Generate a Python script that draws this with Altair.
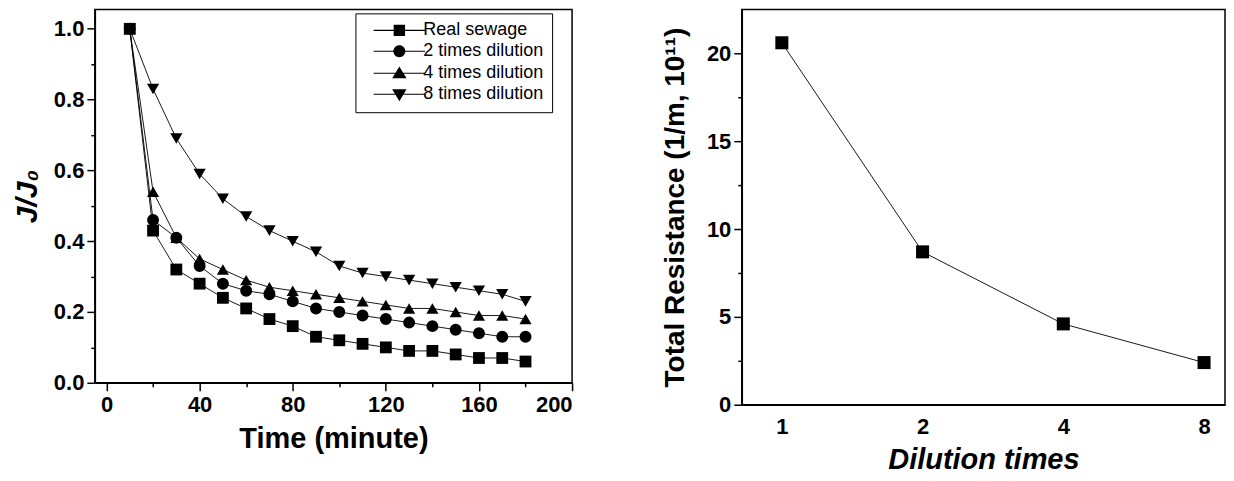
import altair as alt
import pandas as pd

# ---- data ----
time_min = [10, 20, 30, 40, 50, 60, 70, 80, 90, 100, 110, 120, 130, 140, 150, 160, 170, 180]
real_sewage = [1.0, 0.43, 0.32, 0.28, 0.24, 0.21, 0.18, 0.16, 0.13, 0.12, 0.11, 0.10, 0.09, 0.09, 0.08, 0.07, 0.07, 0.06]
dil_2 = [1.0, 0.46, 0.41, 0.33, 0.28, 0.26, 0.25, 0.23, 0.21, 0.20, 0.19, 0.18, 0.17, 0.16, 0.15, 0.14, 0.13, 0.13]
dil_4 = [1.0, 0.54, 0.41, 0.35, 0.32, 0.29, 0.27, 0.26, 0.25, 0.24, 0.23, 0.22, 0.21, 0.21, 0.20, 0.19, 0.19, 0.18]
dil_8 = [1.0, 0.83, 0.69, 0.59, 0.52, 0.47, 0.43, 0.40, 0.37, 0.33, 0.31, 0.30, 0.29, 0.28, 0.27, 0.26, 0.25, 0.23]
series_names = ["Real sewage", "2 times dilution", "4 times dilution", "8 times dilution"]

dilution_times = [1, 2, 4, 8]
total_resistance = [20.6, 8.7, 4.6, 2.4]

# axis tick positions (major + minor)
left_y_ticks = [0, 0.1, 0.2, 0.3, 0.4, 0.5, 0.6, 0.7, 0.8, 0.9, 1.0]
left_x_ticks = [0, 20, 40, 60, 80, 100, 120, 140, 160, 180, 200]
right_y_ticks = [0, 2.5, 5, 7.5, 10, 12.5, 15, 17.5, 20]

FONT = "Liberation Sans"

rows = []
for name, vals in zip(series_names, [real_sewage, dil_2, dil_4, dil_8]):
    for t, v in zip(time_min, vals):
        rows.append({"Time": t, "J": v, "Series": name})
df_left = pd.DataFrame(rows)
df_right = pd.DataFrame({"Dilution": dilution_times, "Resistance": total_resistance})

marker_shapes = ["square", "circle", "triangle-up", "triangle-down"]
marker_sizes = [140, 150, 190, 190]
# legend symbols: marker plus a thin horizontal bar (drawn as filled area)
bar = "M-4.3,-0.09H4.3V0.09H-4.3Z"
legend_shapes = [
    bar + "M-0.95,-0.95H0.95V0.95H-0.95Z",
    bar + "M-1,0A1,1 0 1,1 1,0A1,1 0 1,1 -1,0Z",
    bar + "M0,-1.15L1.2,0.85L-1.2,0.85Z",
    bar + "M0,1.15L-1.2,-0.85L1.2,-0.85Z",
]


def tick_size(test):
    return {"condition": {"test": test, "value": 8}, "value": 4}


x_scale_l = alt.Scale(domain=[-5, 200], nice=False, zero=False)
y_scale_l = alt.Scale(domain=[0, 1.055], nice=False)

x_left = alt.X("Time:Q", scale=x_scale_l,
               axis=alt.Axis(values=left_x_ticks, title="Time (minute)",
                             labelExpr="datum.value % 40 == 0 ? datum.label : ''",
                             tickSize=tick_size("datum.value % 40 == 0"),
                             titleFontSize=29, titlePadding=9, labelPadding=4))
y_left = alt.Y("J:Q", scale=y_scale_l,
               axis=alt.Axis(values=left_y_ticks, format=".1f", title="J/J₀",
                             labelExpr="round(datum.value * 10) % 2 == 0 ? datum.label : ''",
                             tickSize=tick_size("round(datum.value * 10) % 2 == 0"),
                             titleFontStyle="italic", titleFontSize=30, titlePadding=11, labelPadding=3))

lines = alt.Chart(df_left).mark_line(color="black", strokeWidth=0.9).encode(
    x=x_left, y=y_left, detail="Series:N", order="Time:Q")

points = alt.Chart(df_left).mark_point(filled=True, color="black", opacity=1).encode(
    x=x_left, y=y_left,
    shape=alt.Shape("Series:N", scale=alt.Scale(domain=series_names, range=marker_shapes), legend=None),
    size=alt.Size("Series:N", scale=alt.Scale(domain=series_names, range=marker_sizes), legend=None))

legend_layer = alt.Chart(df_left).mark_point(filled=True, color="black", opacity=0, size=144).encode(
    x=x_left, y=y_left,
    shape=alt.Shape("Series:N", scale=alt.Scale(domain=series_names, range=legend_shapes),
                    legend=alt.Legend(title=None, orient="none", legendX=261, legendY=4,
                                      padding=8, strokeColor="black", fillColor="white",
                                      labelFont=FONT, labelFontSize=18, labelFontWeight="normal",
                                      labelColor="black", symbolSize=144, symbolOffset=27,
                                      labelOffset=15, rowPadding=3,
                                      symbolFillColor="black", symbolOpacity=1)))

left = alt.layer(lines, points, legend_layer).resolve_scale(
    shape="independent", size="independent").properties(width=478, height=374)

x_right = alt.X("Dilution:Q",
                scale=alt.Scale(type="log", base=2, domain=[0.821, 8.87], nice=False, zero=False),
                axis=alt.Axis(values=dilution_times, format="d", title="Dilution times",
                              titleFontStyle="italic", titleFontSize=29, titlePadding=8,
                              ticks=False, labelPadding=12, grid=False))
y_right = alt.Y("Resistance:Q", scale=alt.Scale(domain=[0, 22.5], nice=False),
                axis=alt.Axis(values=right_y_ticks, title="Total Resistance (1/m, 10¹¹)",
                              labelExpr="datum.value % 5 == 0 ? datum.label : ''",
                              tickSize=tick_size("datum.value % 5 == 0"),
                              titleFontSize=28, titlePadding=17, labelPadding=3))

r_line = alt.Chart(df_right).mark_line(color="black", strokeWidth=0.9).encode(x=x_right, y=y_right)
r_pts = alt.Chart(df_right).mark_point(shape="square", filled=True, color="black", opacity=1, size=170).encode(
    x=x_right, y=y_right)
right = alt.layer(r_line, r_pts).properties(width=484, height=396)

chart = alt.hconcat(left, right, spacing=86).properties(
    padding={"left": 3, "top": 0, "right": 0, "bottom": 0}
).configure_view(stroke="black", strokeWidth=1.5).configure_axis(
    grid=False, domainColor="black", domainWidth=1.5, tickColor="black", tickWidth=1.5,
    labelFont=FONT, labelFontSize=22, labelFontWeight="bold", labelColor="black",
    titleFont=FONT, titleFontWeight="bold", titleColor="black"
).configure_legend(labelLimit=300)

chart.save("out.html", embed_options={"renderer": "svg", "actions": False})
